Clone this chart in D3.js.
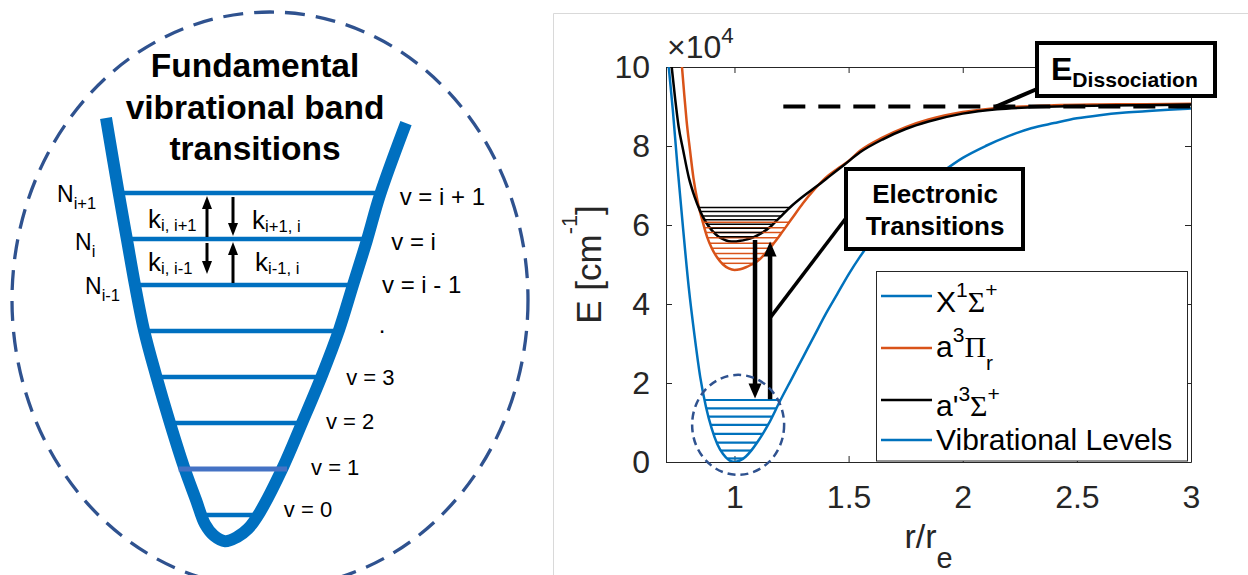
<!DOCTYPE html>
<html lang="en">
<head>
  <meta charset="UTF-8">
  <title>Vibrational levels and potential curves</title>
  <style>
    body { margin: 0; background: #fff; }
    text { font-family: "Liberation Sans", Arial, sans-serif; }
  </style>
</head>
<body>

  <svg id="svg" width="1248" height="575"></svg>

  <script src="https://d3js.org/d3.v7.min.js"></script>
  <script>

    // ---------- right panel: potential curves (r/re, E in 1e4 cm^-1)
    const groundX = [
      [0.712, 10.0], [0.73, 8.9], [0.75, 7.5], [0.775, 5.9], [0.80, 4.4], [0.825, 3.2],
      [0.85, 2.15], [0.875, 1.4], [0.90, 0.85], [0.925, 0.45], [0.95, 0.2], [0.975, 0.05],
      [1.0, 0], [1.025, 0.04], [1.05, 0.14], [1.075, 0.3], [1.10, 0.5], [1.15, 0.97],
      [1.20, 1.55], [1.25, 2.1], [1.30, 2.65], [1.35, 3.2], [1.40, 3.75], [1.45, 4.25],
      [1.50, 4.75], [1.55, 5.2], [1.60, 5.6], [1.70, 6.3], [1.80, 6.85], [1.90, 7.3],
      [2.0, 7.7], [2.1, 8.0], [2.2, 8.25], [2.3, 8.45], [2.4, 8.58], [2.5, 8.7],
      [2.6, 8.78], [2.7, 8.84], [2.8, 8.88], [2.9, 8.92], [3.0, 8.95]
    ]
    const tripletPi = [
      [0.77, 10.0], [0.78, 9.3], [0.79, 8.65], [0.805, 7.9], [0.82, 7.2], [0.84, 6.55],
      [0.86, 6.1], [0.88, 5.7], [0.90, 5.42], [0.925, 5.17], [0.95, 5.0], [0.975, 4.9],
      [1.0, 4.86], [1.025, 4.88], [1.05, 4.93], [1.075, 5.0], [1.10, 5.08], [1.15, 5.38],
      [1.20, 5.75], [1.25, 6.15], [1.30, 6.55], [1.35, 6.9], [1.40, 7.2], [1.45, 7.42],
      [1.50, 7.62], [1.55, 7.88], [1.65, 8.22], [1.75, 8.48], [1.85, 8.67], [2.0, 8.86],
      [2.2, 8.98], [2.4, 9.03], [2.6, 9.05], [2.8, 9.06], [3.0, 9.07]
    ]
    const tripletSigma = [
      [0.725, 10.0], [0.74, 9.2], [0.755, 8.5], [0.775, 7.9], [0.80, 7.2], [0.825, 6.72],
      [0.85, 6.35], [0.875, 6.07], [0.90, 5.87], [0.925, 5.73], [0.95, 5.64], [0.975, 5.59],
      [1.0, 5.58], [1.025, 5.6], [1.05, 5.63], [1.08, 5.68], [1.12, 5.8], [1.16, 5.97],
      [1.20, 6.2], [1.25, 6.48], [1.30, 6.72], [1.36, 6.98], [1.42, 7.25], [1.48, 7.52],
      [1.55, 7.84], [1.65, 8.17], [1.75, 8.43], [1.85, 8.62], [2.0, 8.82], [2.15, 8.93],
      [2.3, 8.98], [2.5, 9.01], [2.75, 9.03], [3.0, 9.05]
    ]
    const groundLevels = [0.09, 0.29, 0.49, 0.71, 0.94, 1.15, 1.36, 1.57]
    const piLevels = [5.03, 5.15, 5.28, 5.41, 5.54, 5.68, 5.81, 5.93, 6.07]
    const sigmaLevels = [5.70, 5.81, 5.92, 6.02, 6.13, 6.23, 6.34, 6.44]
    const dissociation = { r0: 1.214, E: 9.0 }
    const transDown = { r: 1.09, from: 5.62, to: 1.61 }
    const transUp = { r: 1.156, from: 1.59, to: 5.58 }
    const xTicks = [1, 1.5, 2, 2.5, 3]
    const yTicks = [0, 2, 4, 6, 8, 10]
    const seriesNames = ['X^1\\Sigma^+', 'a^3\\Pi_r', "a'^3\\Sigma^+", 'Vibrational Levels']

    // ---------- left panel: schematic well (x px, level units)
    const well = [
      [106, 8.63], [119, 6.96], [127, 5.98], [135, 5.0], [144, 4.02], [156, 3.04],
      [170, 2.0], [184, 1.04], [196, 0.33], [205, -0.2], [214, -0.45], [225, -0.57],
      [237, -0.48], [248, -0.3], [260, 0.065], [283, 1.04], [302, 2.0], [322, 3.04],
      [339, 4.02], [353, 5.0], [367, 5.98], [380, 6.96], [406, 8.52]
    ]
    const wellLevels = [0, 1, 2, 3, 4, 5, 6, 7]
    const levelNames = ['v = 0', 'v = 1', 'v = 2', 'v = 3', '.', 'v = i - 1', 'v = i', 'v = i + 1']
    const popNames = ['N_{i-1}', 'N_i', 'N_{i+1}']
    const rateNames = ['k_{i, i+1}', 'k_{i+1, i}', 'k_{i, i-1}', 'k_{i-1, i}']
    const titleLines = ['Fundamental', 'vibrational band', 'transitions']

    const svg = d3.select('#svg')
    const serif = '"Liberation Serif", "Times New Roman", serif'
    const greek = { Sigma: '\u03A3', Pi: '\u03A0' }

    // small TeX-ish text: ^x, _x, ^{..}, _{..}, \Greek
    function tex(sel, str, o) {
      const parts = []
      let i = 0
      while (i < str.length) {
        const c = str[i]
        if (c === '^' || c === '_') {
          let body
          if (str[i + 1] === '{') { const j = str.indexOf('}', i); body = str.slice(i + 2, j); i = j + 1 }
          else { body = str[i + 1]; i += 2 }
          parts.push({ t: body, k: c === '^' ? 'sup' : 'sub' })
        } else if (c === '\\') {
          const name = str.slice(i + 1).match(/^[A-Za-z]+/)[0]
          parts.push({ t: greek[name], k: 'greek' })
          i += name.length + 1
        } else {
          let j = i
          while (j < str.length && !'^_\\'.includes(str[j])) j++
          parts.push({ t: str.slice(i, j), k: 'n' })
          i = j
        }
      }
      let shift = 0
      parts.forEach(p => {
        const target = p.k === 'sup' ? -o.sup : p.k === 'sub' ? o.sub : 0
        const small = p.k === 'sup' || p.k === 'sub'
        sel.append('tspan')
          .attr('dy', target - shift)
          .style('font-size', (small ? o.size * o.scale : o.size) + 'px')
          .style('font-family', p.k === 'greek' ? serif : null)
          .text(p.t)
        shift = target
      })
      return sel
    }

    function arrow(g, x1, y1, x2, y2, w, hw, hl, color) {
      const dir = Math.sign(y2 - y1)
      g.append('line')
        .attr('x1', x1).attr('y1', y1).attr('x2', x2).attr('y2', y2 - dir * hl * 0.8)
        .attr('stroke', color).attr('stroke-width', w)
      g.append('path')
        .attr('d', `M${x2},${y2} L${x2 - hw / 2},${y2 - dir * hl} L${x2 + hw / 2},${y2 - dir * hl} Z`)
        .attr('fill', color)
    }

    // ================= LEFT PANEL =================
    const left = svg.append('g')
    const yL = d3.scaleLinear().domain([0, 7]).range([515, 193])
    const wellBlue = '#0070C0'

    left.append('ellipse')
      .attr('cx', 270).attr('cy', 300).attr('rx', 258).attr('ry', 288)
      .attr('fill', 'none').attr('stroke', '#2F528F')
      .attr('stroke-width', 3.3).attr('stroke-dasharray', '20,11')

    const bottomIdx = d3.minIndex(well, d => d[1])
    const leftArm = well.slice(0, bottomIdx + 1)
    const rightArm = well.slice(bottomIdx)
    function armX(arm, lv) {
      for (let i = 0; i < arm.length - 1; i++) {
        const a = arm[i], b = arm[i + 1]
        if ((a[1] - lv) * (b[1] - lv) <= 0) {
          const t = (lv - a[1]) / (b[1] - a[1])
          return a[0] + t * (b[0] - a[0])
        }
      }
      return null
    }

    // level lines (behind the well)
    left.selectAll('.lvl')
      .data(wellLevels.filter(d => d !== 1))
      .enter().append('line')
      .attr('x1', d => armX(leftArm, d)).attr('x2', d => armX(rightArm, d))
      .attr('y1', d => yL(d)).attr('y2', d => yL(d))
      .attr('stroke', wellBlue).attr('stroke-width', 4.5)

    left.append('path')
      .datum(well)
      .attr('d', d3.line().x(d => d[0]).y(d => yL(d[1])).curve(d3.curveCatmullRom.alpha(0.5)))
      .attr('fill', 'none').attr('stroke', wellBlue).attr('stroke-width', 12)
      .attr('stroke-linecap', 'butt')

    // v = 1 line drawn on top
    left.append('line')
      .attr('x1', armX(leftArm, 1) - 6).attr('x2', armX(rightArm, 1) + 5)
      .attr('y1', yL(1)).attr('y2', yL(1))
      .attr('stroke', '#4472C4').attr('stroke-width', 5)

    // title
    titleLines.forEach((t, i) => {
      left.append('text')
        .attr('x', 255).attr('y', 77 + i * 41.5)
        .attr('text-anchor', 'middle')
        .style('font-size', '33.5px').style('font-weight', 'bold')
        .text(t)
    })

    // level names on the right of the well
    const nameDx = [26, 29, 24, 25, 40, 29, 24, 19]
    const nameDy = [2, 6, 6, 8, 2, 8, 11, 12]
    levelNames.forEach((t, i) => {
      const lv = wellLevels[i]
      left.append('text')
        .attr('x', armX(rightArm, lv) + nameDx[i])
        .attr('y', yL(lv) + nameDy[i])
        .style('font-size', i >= 4 ? '24px' : '22px')
        .text(t)
    })

    // populations N
    const popX = [85, 75, 57]
    const popDy = [9, 11, 9]
    popNames.forEach((t, i) => {
      tex(left.append('text').attr('x', popX[i]).attr('y', yL(5 + i) + popDy[i]),
        t, { size: 23, scale: 0.72, sup: 8, sub: 7 })
    })

    // rate constants k and arrows
    const rateX = [148, 252, 148, 255]
    const rateY = [yL(6) - 11, yL(6) - 10, yL(5) - 14, yL(5) - 14]
    rateNames.forEach((t, i) => {
      tex(left.append('text').attr('x', rateX[i]).attr('y', rateY[i]),
        t, { size: 26, scale: 0.64, sup: 8, sub: 3 })
    })
    arrow(left, 207, yL(6) - 2, 207, yL(7) + 3, 3, 10, 13, '#000')
    arrow(left, 233, yL(7) + 4, 233, yL(6) - 3, 3, 10, 13, '#000')
    arrow(left, 207, yL(6) + 4, 207, yL(5) - 11, 3, 10, 13, '#000')
    arrow(left, 233, yL(5) - 2, 233, yL(6) + 3, 3, 10, 13, '#000')

    // ================= RIGHT PANEL =================
    svg.append('path')
      .attr('d', 'M553.5,575 V13.5 H1248')
      .attr('fill', 'none').attr('stroke', '#d9d9d9').attr('stroke-width', 1)

    const x = d3.scaleLinear().domain([0.7, 3]).range([666, 1191])
    const y = d3.scaleLinear().domain([0, 10]).range([462, 67])
    const axisColor = '#262626'
    const blue = '#0072BD', orange = '#D95319'

    function styleAxis(g, size) {
      g.attr('font-size', null).attr('font-family', null)
      g.selectAll('path, line').attr('stroke', axisColor).attr('stroke-width', 1)
      g.selectAll('text').attr('fill', axisColor).style('font-size', size + 'px')
    }
    svg.append('g').attr('transform', `translate(0,${y(0)})`)
      .call(d3.axisBottom(x).tickValues(xTicks).tickSizeInner(-6).tickSizeOuter(0).tickPadding(23).tickFormat(d => d))
      .call(g => styleAxis(g, 32))
    svg.append('g').attr('transform', `translate(${x(0.7)},0)`)
      .call(d3.axisLeft(y).tickValues(yTicks).tickSizeInner(-6).tickSizeOuter(0).tickPadding(16).tickFormat(d => d))
      .call(g => styleAxis(g, 32))
    svg.append('g').attr('transform', `translate(0,${y(10)})`)
      .call(d3.axisTop(x).tickValues(xTicks).tickSizeInner(-6).tickSizeOuter(0).tickFormat(''))
      .call(g => styleAxis(g, 32))
    svg.append('g').attr('transform', `translate(${x(3)},0)`)
      .call(d3.axisRight(y).tickValues(yTicks).tickSizeInner(-6).tickSizeOuter(0).tickFormat(''))
      .call(g => styleAxis(g, 32))

    // x10^4
    tex(svg.append('text').attr('x', 667).attr('y', 58).attr('fill', axisColor),
      '\u00D710^4', { size: 32, scale: 0.7, sup: 15, sub: 0 })

    // axis labels
    tex(svg.append('text').attr('text-anchor', 'middle').attr('fill', axisColor)
      .attr('transform', `translate(601,${(y(0) + y(10)) / 2}) rotate(-90)`),
      'E [cm^{-1}]', { size: 35, scale: 0.62, sup: 24, sub: 0 })
    tex(svg.append('text').attr('text-anchor', 'middle').attr('fill', axisColor)
      .attr('x', (x(0.7) + x(3)) / 2).attr('y', 548),
      'r/r_e', { size: 34, scale: 0.85, sup: 0, sub: 20 })

    svg.append('clipPath').attr('id', 'plotClip')
      .append('rect').attr('x', x(0.7)).attr('y', y(10))
      .attr('width', x(3) - x(0.7)).attr('height', y(0) - y(10))
    const plot = svg.append('g').attr('clip-path', 'url(#plotClip)')

    const line = d3.line().x(d => x(d[0])).y(d => y(d[1])).curve(d3.curveMonotoneX)
    const curves = [
      { pts: groundX, color: blue, levels: groundLevels, lw: 2.2 },
      { pts: tripletPi, color: orange, levels: piLevels, lw: 1.5 },
      { pts: tripletSigma, color: '#000', levels: sigmaLevels, lw: 1.5 }
    ]
    curves.forEach(c => {
      plot.append('path').datum(c.pts).attr('d', line)
        .attr('fill', 'none').attr('stroke', c.color).attr('stroke-width', 2.5)
    })

    function crossing(pts, E, fromMin) {
      const m = d3.minIndex(pts, d => d[1])
      const seg = fromMin ? pts.slice(m) : pts.slice(0, m + 1)
      for (let i = 0; i < seg.length - 1; i++) {
        const a = seg[i], b = seg[i + 1]
        if ((a[1] - E) * (b[1] - E) <= 0) {
          const t = (E - a[1]) / (b[1] - a[1])
          return a[0] + t * (b[0] - a[0])
        }
      }
      return null
    }
    curves.forEach(c => {
      plot.selectAll(null).data(c.levels).enter().append('line')
        .attr('x1', d => x(crossing(c.pts, d, false)))
        .attr('x2', d => x(crossing(c.pts, d, true)))
        .attr('y1', d => y(d)).attr('y2', d => y(d))
        .attr('stroke', c.color).attr('stroke-width', c.lw)
    })

    // dissociation energy
    svg.append('line')
      .attr('x1', x(dissociation.r0)).attr('x2', x(3))
      .attr('y1', y(dissociation.E)).attr('y2', y(dissociation.E))
      .attr('stroke', '#000').attr('stroke-width', 4).attr('stroke-dasharray', '22,13')

    // electronic transitions
    arrow(svg, x(transDown.r), y(transDown.from), x(transDown.r), y(transDown.to), 4.5, 13, 15, '#000')
    arrow(svg, x(transUp.r), y(transUp.from), x(transUp.r), y(transUp.to), 4.5, 13, 15, '#000')

    // highlight circle round ground levels
    svg.append('ellipse')
      .attr('cx', x(1.016)).attr('cy', y(0.94)).attr('rx', 46).attr('ry', 50)
      .attr('fill', 'none').attr('stroke', '#2F528F')
      .attr('stroke-width', 2.5).attr('stroke-dasharray', '8,5')

    // legend
    const lg = svg.append('g')
    lg.append('rect').attr('x', 876.5).attr('y', 271.5).attr('width', 311).attr('height', 189.5)
      .attr('fill', '#fff').attr('stroke', axisColor).attr('stroke-width', 1)
    const legColors = [blue, orange, '#000', blue]
    const legLineY = [296, 348, 400, 440]
    const legTextY = [312, 357, 416, 450]
    seriesNames.forEach((n, i) => {
      lg.append('line').attr('x1', 881).attr('x2', 932)
        .attr('y1', legLineY[i]).attr('y2', legLineY[i])
        .attr('stroke', legColors[i]).attr('stroke-width', 2.5)
      tex(lg.append('text').attr('x', 936).attr('y', legTextY[i]).attr('fill', '#000'),
        n, { size: 30, scale: 0.7, sup: 15, sub: 13 })
    })

    // annotation boxes
    const ann = svg.append('g')
    ann.append('line').attr('x1', 846).attr('y1', 218).attr('x2', x(transUp.r)).attr('y2', y(3.65))
      .attr('stroke', '#000').attr('stroke-width', 3.5)
    ann.append('rect').attr('x', 846).attr('y', 169).attr('width', 177).attr('height', 80)
      .attr('fill', '#fff').attr('stroke', '#000').attr('stroke-width', 4)
    ;['Electronic', 'Transitions'].forEach((t, i) => {
      ann.append('text').attr('x', 935).attr('y', 203 + i * 32)
        .attr('text-anchor', 'middle')
        .style('font-size', '26px').style('font-weight', 'bold')
        .text(t)
    })

    ann.append('line').attr('x1', 1037).attr('y1', 89).attr('x2', 996).attr('y2', y(dissociation.E))
      .attr('stroke', '#000').attr('stroke-width', 4)
    ann.append('rect').attr('x', 1037).attr('y', 43).attr('width', 178).attr('height', 53)
      .attr('fill', '#fff').attr('stroke', '#000').attr('stroke-width', 4)
    tex(ann.append('text').attr('x', 1051).attr('y', 80).style('font-weight', 'bold'),
      'E_{Dissociation}', { size: 32, scale: 0.66, sup: 0, sub: 7 })

  </script>
</body>
</html>
